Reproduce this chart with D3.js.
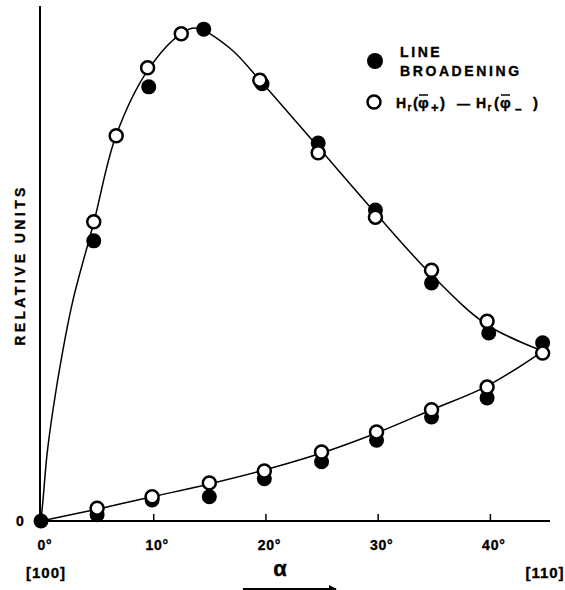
<!DOCTYPE html>
<html>
<head>
<meta charset="utf-8">
<script src="https://cdn.jsdelivr.net/npm/d3@7"></script>
<style>
  html, body { margin: 0; padding: 0; background: #fff; }
  svg { display: block; }
  text { font-family: "Liberation Sans", Arial, Helvetica, sans-serif; font-weight: bold; fill: #000; stroke: #000; stroke-width: 0.35px; }
</style>
</head>
<body>
<svg id="chart" width="565" height="590"></svg>
<script>
// Angle alpha (degrees from [100] towards [110]) and relative-unit values.

// Line-broadening measurements, upper branch
const lbUpperDeg = [4.7, 9.6, 14.5, 19.7, 24.7, 29.8, 34.8, 39.9, 44.7];
const lbUpperVal = [54.4, 84.3, 95.5, 84.9, 73.4, 60.4, 46.2, 36.5, 34.6];
// Line-broadening measurements, lower branch
const lbLowerDeg = [0, 5, 9.9, 15, 19.9, 25, 29.9, 34.8, 39.75];
const lbLowerVal = [0, 1.2, 4.1, 4.7, 8.2, 11.5, 15.7, 20.2, 23.9];

// Hr(φ+) − Hr(φ−) values, upper branch
const hrUpperDeg = [4.7, 6.7, 9.5, 12.5, 19.5, 24.7, 29.8, 34.8, 39.75, 44.7];
const hrUpperVal = [58.1, 74.8, 88.0, 94.6, 85.6, 71.5, 59.0, 48.7, 38.8, 32.6];
// Hr(φ+) − Hr(φ−) values, lower branch
const hrLowerDeg = [5, 9.9, 15, 19.9, 25, 29.9, 34.8, 39.75];
const hrLowerVal = [2.5, 4.7, 7.4, 9.7, 13.4, 17.3, 21.6, 26.0];

// Smooth guide curve through both branches
const curveUpperDeg = [0, 0.18, 0.53, 1.07, 1.87, 2.85, 4.72, 6.68, 9.54, 12.48, 13.9, 16.84, 19.5, 24.7, 29.8, 34.8, 39.75, 44.74];
const curveUpperVal = [0, 4.1, 12.8, 21.6, 32.2, 42.9, 58.1, 74.8, 87.6, 94.6, 95.7, 91.8, 85.6, 72.6, 59.8, 47.8, 38.1, 33.0];
const curveLowerDeg = [0, 5, 9.9, 15, 19.9, 25, 29.9, 34.8, 39.75, 44.74];
const curveLowerVal = [0, 2.3, 4.7, 7.2, 9.9, 13.2, 17.1, 21.6, 26.2, 33.0];

// Axis ticks
const xTicks = [0, 10, 20, 30, 40];
const xTickLabels = ["0°", "10°", "20°", "30°", "40°"];
const yTickLabels = ["0"];
const legendLabels = ["LINE", "BROADENING"];

const svg = d3.select("#chart");

const x = d3.scaleLinear().domain([0, 45]).range([41, 546]);
const y = d3.scaleLinear().domain([0, 100]).range([521, 6]);

const zip = (xs, ys) => xs.map((d, i) => [d, ys[i]]);

// Axes
svg.append("line")
  .attr("x1", 40).attr("x2", 40)
  .attr("y1", y(100)).attr("y2", y(0))
  .attr("stroke", "#000").attr("stroke-width", 2);

const xAxis = d3.axisBottom(x)
  .tickValues(xTicks.filter(d => d > 0))
  .tickSizeInner(-7)
  .tickSizeOuter(0)
  .tickFormat("");
const gx = svg.append("g")
  .attr("transform", `translate(0,${y(0)})`)
  .call(xAxis);
gx.select(".domain")
  .attr("d", `M40,0H550`)
  .attr("stroke", "#000").attr("stroke-width", 2);
gx.selectAll(".tick line").attr("stroke", "#000").attr("stroke-width", 1.5);

// Tick labels
svg.append("g").selectAll("text")
  .data(xTicks)
  .join("text")
  .attr("x", d => x(d) + 4)
  .attr("y", 550)
  .attr("text-anchor", "middle")
  .attr("font-size", 14)
  .attr("letter-spacing", 0.8)
  .text((d, i) => xTickLabels[i]);

svg.append("text")
  .attr("x", 20).attr("y", y(0) + 5)
  .attr("text-anchor", "middle")
  .attr("font-size", 14)
  .text(yTickLabels[0]);

// Direction labels
svg.append("text")
  .attr("x", 46).attr("y", 578)
  .attr("text-anchor", "middle")
  .attr("font-size", 15)
  .attr("letter-spacing", 1)
  .text("[100]");
svg.append("text")
  .attr("x", 545).attr("y", 578)
  .attr("text-anchor", "middle")
  .attr("font-size", 15)
  .attr("letter-spacing", 1)
  .text("[110]");

svg.append("text")
  .attr("x", 280).attr("y", 576)
  .attr("text-anchor", "middle")
  .attr("font-size", 22)
  .text("α");

// Arrow under alpha
svg.append("defs").append("marker")
  .attr("id", "arrowhead")
  .attr("viewBox", "0 0 10 10")
  .attr("refX", 9).attr("refY", 5)
  .attr("markerWidth", 8).attr("markerHeight", 8)
  .attr("markerUnits", "userSpaceOnUse")
  .attr("orient", "auto")
  .append("path").attr("d", "M0,0L10,5L0,10z").attr("fill", "#000");
svg.append("line")
  .attr("x1", 243).attr("x2", 336)
  .attr("y1", 589).attr("y2", 589)
  .attr("stroke", "#000").attr("stroke-width", 2)
  .attr("marker-end", "url(#arrowhead)");

// Y axis title
svg.append("text")
  .attr("transform", "translate(25,265) rotate(-90)")
  .attr("text-anchor", "middle")
  .attr("font-size", 14)
  .attr("letter-spacing", 3.4)
  .text("RELATIVE UNITS");

// Guide curve
const line = d3.line()
  .x(d => x(d[0]))
  .y(d => y(d[1]))
  .curve(d3.curveCatmullRom.alpha(0.5));

svg.append("path")
  .attr("d", line(zip(curveUpperDeg, curveUpperVal)))
  .attr("fill", "none").attr("stroke", "#000").attr("stroke-width", 1.5);
svg.append("path")
  .attr("d", line(zip(curveLowerDeg, curveLowerVal)))
  .attr("fill", "none").attr("stroke", "#000").attr("stroke-width", 1.5);

// Filled markers: line broadening
const filled = zip(lbUpperDeg, lbUpperVal).concat(zip(lbLowerDeg, lbLowerVal));
svg.append("g").selectAll("circle")
  .data(filled)
  .join("circle")
  .attr("cx", d => x(d[0]))
  .attr("cy", d => y(d[1]))
  .attr("r", 7.5)
  .attr("fill", "#000");

// Open markers: Hr difference
const open = zip(hrUpperDeg, hrUpperVal).concat(zip(hrLowerDeg, hrLowerVal));
svg.append("g").selectAll("circle")
  .data(open)
  .join("circle")
  .attr("cx", d => x(d[0]))
  .attr("cy", d => y(d[1]))
  .attr("r", 6.5)
  .attr("fill", "#fff")
  .attr("stroke", "#000")
  .attr("stroke-width", 2.5);

// Legend
const lg = svg.append("g");
lg.append("circle").attr("cx", 375).attr("cy", 61).attr("r", 8).attr("fill", "#000");
lg.selectAll("text.lb")
  .data(legendLabels)
  .join("text")
  .attr("class", "lb")
  .attr("x", 400)
  .attr("y", (d, i) => 57 + i * 19)
  .attr("font-size", 14)
  .attr("letter-spacing", 2.6)
  .text(d => d);

lg.append("circle").attr("cx", 374).attr("cy", 102).attr("r", 6.5)
  .attr("fill", "#fff").attr("stroke", "#000").attr("stroke-width", 2.5);

// Hr(φ+) − Hr(φ−), glyphs placed individually
const hrBase = 108;
const hrParts = [
  { t: "H", x: 396, dy: 0, fs: 14 },
  { t: "r", x: 407.5, dy: 3, fs: 10 },
  { t: "(", x: 413, dy: 0, fs: 15 },
  { t: "φ", x: 418, dy: 0, fs: 15, bar: true },
  { t: "+", x: 431, dy: 4, fs: 13 },
  { t: ")", x: 440, dy: 0, fs: 15 },
  { t: "\u2014", x: 457, dy: 0, fs: 13 },
  { t: "H", x: 476, dy: 0, fs: 14 },
  { t: "r", x: 487.5, dy: 3, fs: 10 },
  { t: "(", x: 494, dy: 0, fs: 15 },
  { t: "φ", x: 500, dy: 0, fs: 15, bar: true },
  { t: "\u2013", x: 515, dy: 5, fs: 12 },
  { t: ")", x: 533, dy: 0, fs: 15 }
];
const hr = lg.append("text").attr("y", hrBase);
hrParts.forEach(p => {
  hr.append("tspan")
    .attr("x", p.x)
    .attr("y", hrBase + p.dy)
    .attr("font-size", p.fs)
    .text(p.t);
});
lg.selectAll("line.bar")
  .data(hrParts.filter(p => p.bar))
  .join("line")
  .attr("class", "bar")
  .attr("x1", p => p.x + 1).attr("x2", p => p.x + 10)
  .attr("y1", hrBase - 13).attr("y2", hrBase - 13)
  .attr("stroke", "#000").attr("stroke-width", 1.5);
</script>
</body>
</html>
